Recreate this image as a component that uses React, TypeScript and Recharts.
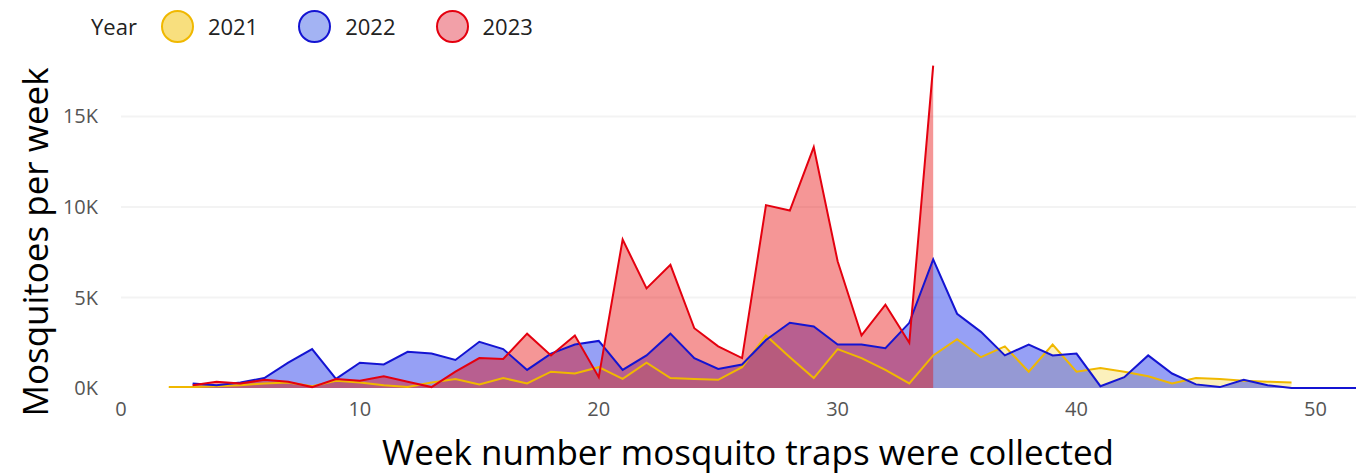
import React from "react";
import { AreaChart, Area, XAxis, YAxis, CartesianGrid } from "recharts";

const weeks = [2, 3, 4, 5, 6, 7, 8, 9, 10, 11, 12, 13, 14, 15, 16, 17, 18, 19, 20, 21, 22, 23, 24, 25, 26, 27, 28, 29, 30, 31, 32, 33, 34, 35, 36, 37, 38, 39, 40, 41, 42, 43, 44, 45, 46, 47, 48, 49, 50, 51, 52];

const y2021 = [50, 50, 100, 150, 250, 300, 100, 400, 300, 150, 50, 300, 500, 200, 550, 250, 900, 800, 1150, 500, 1400, 550, 500, 450, 1150, 2900, 1700, 550, 2150, 1650, 1000, 250, 1800, 2700, 1700, 2300, 900, 2400, 900, 1100, 900, 650, 250, 550, 500, 400, 350, 300, null, null, null];

const y2022 = [null, 250, 150, 300, 550, 1400, 2150, 500, 1400, 1300, 2000, 1900, 1550, 2550, 2150, 1000, 1900, 2400, 2600, 1000, 1800, 3000, 1650, 1050, 1300, 2650, 3600, 3400, 2400, 2400, 2200, 3600, 7100, 4100, 3100, 1800, 2400, 1800, 1900, 100, 600, 1800, 800, 200, 50, 450, 150, 0, 0, 0, 0];

const y2023 = [null, 150, 350, 250, 450, 350, 50, 500, 400, 650, 350, 50, 900, 1650, 1600, 3000, 1800, 2900, 600, 8200, 5500, 6800, 3300, 2300, 1650, 10100, 9800, 13300, 7000, 2900, 4600, 2500, 17800, null, null, null, null, null, null, null, null, null, null, null, null, null, null, null, null, null, null];

const xTicks = [0, 10, 20, 30, 40, 50];
const yTicks = [0, 5000, 10000, 15000];
const years = ["2021", "2022", "2023"];

const seriesStyle: Record<string, { stroke: string; fill: string; fillOpacity: number; legendFill: string }> = {
  "2021": { stroke: "#f0b800", fill: "#f5cf30", fillOpacity: 0.32, legendFill: "#f8df7e" },
  "2022": { stroke: "#1414d2", fill: "#2d41eb", fillOpacity: 0.5, legendFill: "#a3b3f3" },
  "2023": { stroke: "#e4000f", fill: "#e70505", fillOpacity: 0.42, legendFill: "#f2a0a8" },
};

const data = weeks.map((w, i) => ({
  week: w,
  "2021": y2021[i],
  "2022": y2022[i],
  "2023": y2023[i],
}));

const FONT = "'Open Sans', 'Noto Sans', sans-serif";

export default function App() {
  return (
    <div style={{ position: "relative", width: 1356, height: 474, fontFamily: FONT, background: "#fff", overflow: "hidden" }}>
      <style>{"body{margin:0;}"}</style>
      <AreaChart
        width={1356}
        height={474}
        data={data}
        margin={{ top: 53, right: 0, bottom: 0, left: 0 }}
      >
        <CartesianGrid vertical={false} horizontalValues={[5000, 10000, 15000]} stroke="#f3f3f3" strokeWidth={2} />
        <XAxis
          dataKey="week"
          type="number"
          domain={[0, 51.7]}
          ticks={xTicks}
          allowDataOverflow
          height={86}
          tickLine={false}
          axisLine={false}
          tickMargin={8}
          tick={{ fill: "#555", fontSize: 20, fontFamily: FONT }}
        />
        <YAxis
          type="number"
          domain={[0, 18500]}
          ticks={yTicks}
          width={121}
          tickLine={false}
          axisLine={false}
          tickMargin={17}
          tickFormatter={(v: number) => `${v / 1000}K`}
          tick={{ fill: "#555", fontSize: 20, fontFamily: FONT }}
        />
        {years.map((y) => (
          <Area
            key={`fill-${y}`}
            type="linear"
            dataKey={y}
            stroke="none"
            fill={seriesStyle[y].fill}
            fillOpacity={seriesStyle[y].fillOpacity}
            dot={false}
            activeDot={false}
            isAnimationActive={false}
          />
        ))}
        {years.map((y) => (
          <Area
            key={`line-${y}`}
            type="linear"
            dataKey={y}
            stroke={seriesStyle[y].stroke}
            strokeWidth={2}
            fill="none"
            fillOpacity={0}
            dot={false}
            activeDot={false}
            isAnimationActive={false}
          />
        ))}
      </AreaChart>

      {/* Legend */}
      <div style={{ position: "absolute", left: 91, top: 9, height: 34, display: "flex", alignItems: "center", fontSize: 22, color: "#222" }}>
        <span style={{ marginRight: 24 }}>Year</span>
        {years.map((y) => (
          <span key={y} style={{ display: "flex", alignItems: "center", marginRight: 40 }}>
            <span
              style={{
                width: 33,
                height: 33,
                borderRadius: "50%",
                boxSizing: "border-box",
                border: `2px solid ${seriesStyle[y].stroke}`,
                background: seriesStyle[y].legendFill,
                marginRight: 14,
                display: "inline-block",
              }}
            />
            <span>{y}</span>
          </span>
        ))}
      </div>

      {/* Y axis title */}
      <div
        style={{
          position: "absolute",
          left: 35,
          top: 242,
          transform: "translate(-50%, -50%) rotate(-90deg)",
          whiteSpace: "nowrap",
          fontSize: 35,
          lineHeight: "40px",
          color: "#000",
        }}
      >
        Mosquitoes per week
      </div>

      {/* X axis title */}
      <div
        style={{
          position: "absolute",
          left: 748,
          top: 452,
          transform: "translate(-50%, -50%)",
          whiteSpace: "nowrap",
          fontSize: 35,
          lineHeight: "40px",
          color: "#000",
        }}
      >
        Week number mosquito traps were collected
      </div>
    </div>
  );
}
